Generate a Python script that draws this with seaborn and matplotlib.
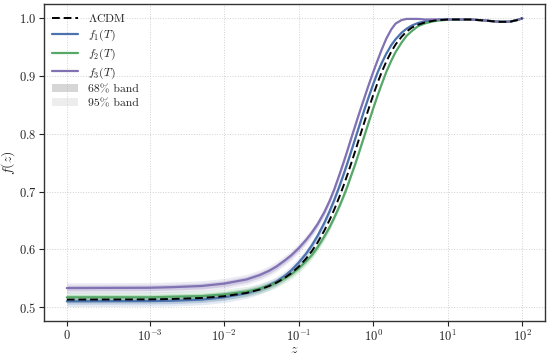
import numpy as np
import pandas as pd
import seaborn as sns
import matplotlib.pyplot as plt
from matplotlib.lines import Line2D
from matplotlib.patches import Patch
from matplotlib.ticker import FixedLocator, FixedFormatter, NullLocator

# redshift grid the curves were read at
z = [0, 0.001, 0.002, 0.005, 0.01, 0.02, 0.03, 0.04, 0.05, 0.065, 0.08, 0.1,
     0.125, 0.15, 0.18, 0.22, 0.26, 0.3, 0.35, 0.4, 0.45, 0.5, 0.57, 0.65,
     0.75, 0.85, 1.0, 1.15, 1.3, 1.5, 1.75, 2.0, 2.4, 2.8, 3.3,
     4, 5, 6.5, 8, 10, 15, 20, 30, 40, 50, 60, 70, 85, 100]

f_lcdm = [0.513, 0.5134, 0.5141, 0.5158, 0.5188, 0.5246, 0.5305, 0.5364,
          0.5421, 0.5506, 0.5590, 0.5700,
          0.5836, 0.5968, 0.6122, 0.6320, 0.6509, 0.6689, 0.6903, 0.7103,
          0.7290, 0.7466, 0.7691, 0.7923, 0.8177, 0.8397, 0.8671, 0.8891,
          0.9069, 0.9253, 0.9424, 0.9549, 0.968, 0.977, 0.984,
          0.989, 0.993, 0.996, 0.997, 0.998, 0.998, 0.998, 0.9965, 0.995,
          0.994, 0.994, 0.9945, 0.997, 1.000]
f_1 = [0.510, 0.5105, 0.511, 0.513, 0.517, 0.524, 0.531, 0.538, 0.544,
       0.554, 0.564, 0.577,
       0.592, 0.6068, 0.6238, 0.6455, 0.6661, 0.6856, 0.7084, 0.7297,
       0.7493, 0.7675, 0.7906, 0.8138, 0.8392, 0.8600, 0.8862, 0.9069,
       0.9226, 0.9389, 0.9538, 0.9639, 0.975, 0.982, 0.9876,
       0.992, 0.995, 0.997, 0.998, 0.998, 0.998, 0.998, 0.9965, 0.995,
       0.994, 0.994, 0.9945, 0.997, 1.000]
f_2 = [0.517, 0.517, 0.518, 0.519, 0.522, 0.527, 0.532, 0.537, 0.542,
       0.550, 0.557, 0.567,
       0.579, 0.590, 0.604, 0.622, 0.6385, 0.655, 0.674, 0.692, 0.709,
       0.726, 0.7465, 0.769, 0.794, 0.816, 0.844, 0.867, 0.886, 0.9073,
       0.9268, 0.9417, 0.958, 0.9696, 0.978,
       0.9865, 0.9915, 0.995, 0.9965, 0.9975, 0.998, 0.998, 0.9965, 0.995,
       0.994, 0.994, 0.9945, 0.997, 1.000]
f_3 = [0.533, 0.5335, 0.5345, 0.5366, 0.5407, 0.5479, 0.5555, 0.5628,
       0.570, 0.5807, 0.590, 0.602,
       0.616, 0.629, 0.644, 0.664, 0.684, 0.7039, 0.7284, 0.7505, 0.771,
       0.790, 0.813, 0.836, 0.860, 0.881, 0.907, 0.928, 0.946, 0.965,
       0.981, 0.991, 0.997, 0.999, 0.999,
       0.999, 0.998, 0.998, 0.998, 0.998, 0.998, 0.998, 0.9965, 0.995,
       0.994, 0.994, 0.9945, 0.997, 1.000]

# half widths of the 68% and 95% bands
w95 = [0.009, 0.009, 0.009, 0.009, 0.009, 0.0088, 0.0087, 0.0086, 0.0085,
       0.0083, 0.0082, 0.008,
       0.0078, 0.0075, 0.0072, 0.0068, 0.0064, 0.006, 0.0056, 0.0052,
       0.0048, 0.0045, 0.004, 0.0036, 0.0032, 0.0028, 0.0023, 0.0018,
       0.0014, 0.001, 0.0007, 0.0005, 0.0003, 0.0002, 0.0001,
       0, 0, 0, 0, 0, 0, 0, 0, 0, 0, 0, 0, 0, 0]
w68 = [0.005, 0.005, 0.005, 0.005, 0.005, 0.0049, 0.0048, 0.0048, 0.0047,
       0.0046, 0.0045, 0.0044,
       0.0043, 0.0041, 0.004, 0.0037, 0.0035, 0.0033, 0.0031, 0.0029,
       0.0027, 0.0025, 0.0022, 0.002, 0.0018, 0.0015, 0.0013, 0.001,
       0.0008, 0.0006, 0.0004, 0.0003, 0.0002, 0.0001, 0,
       0, 0, 0, 0, 0, 0, 0, 0, 0, 0, 0, 0, 0, 0]

xticks = [0, 1e-3, 1e-2, 1e-1, 1, 10, 100]
xticklabels = ["$0$", "$10^{-3}$", "$10^{-2}$", "$10^{-1}$", "$10^{0}$",
               "$10^{1}$", "$10^{2}$"]
yticks = [0.5, 0.6, 0.7, 0.8, 0.9, 1.0]
yticklabels = ["$0.5$", "$0.6$", "$0.7$", "$0.8$", "$0.9$", "$1.0$"]

names = ["$f_1(T)$", "$f_2(T)$", "$f_3(T)$"]
pal = sns.color_palette("deep")
colors = [pal[0], pal[2], pal[4]]

sns.set_theme(style="whitegrid")
plt.rcParams.update({
    "font.family": "serif",
    "font.serif": ["cmr10"],
    "mathtext.fontset": "cm",
    "axes.formatter.use_mathtext": True,
    "axes.unicode_minus": False,
})

fig, ax = plt.subplots(figsize=(5.5, 3.57), dpi=100)
fig.subplots_adjust(left=0.08, right=0.991, bottom=0.101, top=0.989)

df = pd.DataFrame({"z": z, "lcdm": f_lcdm, "f1": f_1, "f2": f_2, "f3": f_3})
zz = np.array(z)
for col, c in zip(["f1", "f2", "f3"], colors):
    y = df[col].values
    ax.fill_between(zz, y - np.array(w95), y + np.array(w95), color=c,
                    alpha=0.15, lw=0)
    ax.fill_between(zz, y - np.array(w68), y + np.array(w68), color=c,
                    alpha=0.25, lw=0)

for col, c in zip(["f1", "f2", "f3"], colors):
    sns.lineplot(data=df, x="z", y=col, color=c, lw=1.6, ax=ax)
sns.lineplot(data=df, x="z", y="lcdm", color="black", lw=1.4, ax=ax,
             linestyle=(0, (4, 2)))

ax.set_xscale("symlog", linthresh=1e-3)
ax.xaxis.set_major_locator(FixedLocator(xticks))
ax.xaxis.set_major_formatter(FixedFormatter(xticklabels))
ax.xaxis.set_minor_locator(NullLocator())
ax.set_yticks(yticks)
ax.set_yticklabels(yticklabels)

ax.set_xlabel("$z$", fontsize=10, labelpad=0)
ax.set_ylabel("$f(z)$", fontsize=10, labelpad=1)
ax.tick_params(axis="both", labelsize=9, length=3.5, width=0.8, pad=2,
               direction="out", bottom=True, left=True, colors="#222222")
ax.grid(True, linestyle=":", color="#d0d0d0", lw=0.7)
for s in ax.spines.values():
    s.set_visible(True)
    s.set_color("#333333")
    s.set_linewidth(1.0)

handles = [
    Line2D([], [], color="black", lw=1.4, linestyle=(0, (4, 2))),
    Line2D([], [], color=colors[0], lw=1.6),
    Line2D([], [], color=colors[1], lw=1.6),
    Line2D([], [], color=colors[2], lw=1.6),
    Patch(facecolor="#bbbbbb", alpha=0.6, lw=0),
    Patch(facecolor="#dddddd", alpha=0.5, lw=0),
]
labels = [r"$\Lambda$CDM"] + names + ["68% band", "95% band"]
ax.legend(handles, labels, loc="upper left", frameon=False, fontsize=8.5,
          handlelength=2.2, labelspacing=0.3, borderaxespad=0.3)

fig.savefig("out.png", dpi=100)
